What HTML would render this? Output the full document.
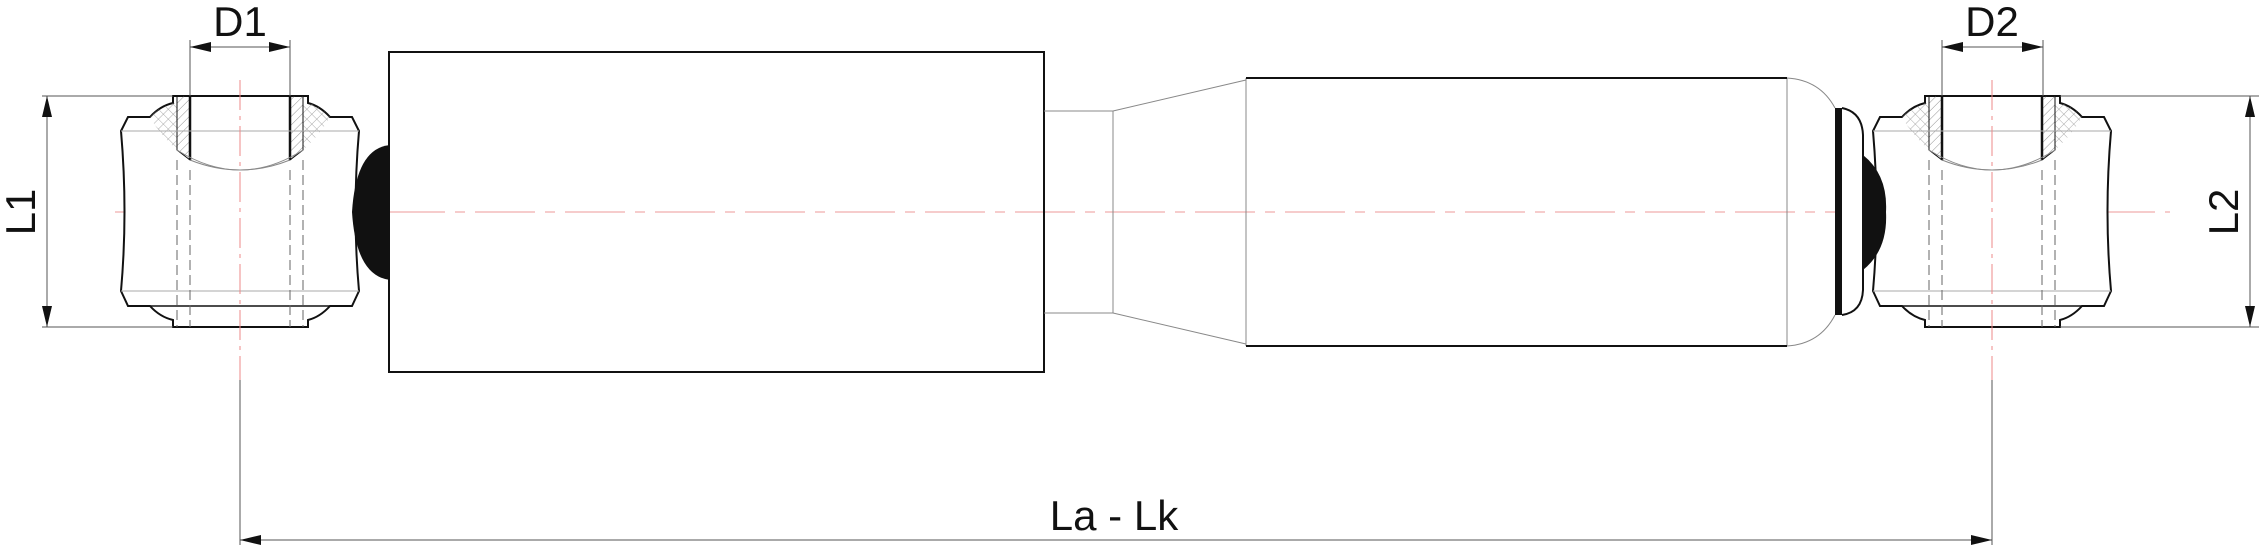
<!DOCTYPE html>
<html><head><meta charset="utf-8"><style>
html,body{margin:0;padding:0;background:#fff;}
svg{display:block;}
text{font-family:"Liberation Sans",sans-serif;fill:#111;}
</style></head><body>
<svg width="2259" height="550" viewBox="0 0 2259 550" xmlns="http://www.w3.org/2000/svg">
<defs>
<pattern id="h1" width="6" height="6" patternUnits="userSpaceOnUse" patternTransform="rotate(45)"><line x1="0" y1="0" x2="0" y2="6" stroke="#777" stroke-width="0.8"/></pattern>
<pattern id="h2" width="7" height="7" patternUnits="userSpaceOnUse" patternTransform="rotate(45)"><line x1="0" y1="0" x2="0" y2="7" stroke="#888" stroke-width="0.7"/><line x1="0" y1="0" x2="7" y2="0" stroke="#888" stroke-width="0.7"/></pattern>
<g id="eye">
  <path d="M128,117 L150,117 Q160,106 173,103 L173,96 L308,96 L308,103 Q320,106 330,117 L352,117 L359,131 Q352,212 359,291 L352,306 L330,306 Q320,317 308,320 L308,327 L173,327 L173,320 Q160,317 150,306 L128,306 L121,291 Q128,212 121,131 Z" fill="#fff" stroke="#111" stroke-width="2"/>
  <path d="M150,117 Q160,106 173,103 L177,103 L177,150 Q160,135 150,117 Z" fill="url(#h2)"/>
  <path d="M330,117 Q320,106 308,103 L303,103 L303,150 Q320,135 330,117 Z" fill="url(#h2)"/>
  <path d="M177,96 L190,96 L190,160 L177,150 Z" fill="url(#h1)" stroke="#111" stroke-width="1"/>
  <path d="M290,96 L303,96 L303,150 L290,160 Z" fill="url(#h1)" stroke="#111" stroke-width="1"/>
  <line x1="190" y1="96" x2="190" y2="160" stroke="#111" stroke-width="2.5"/>
  <line x1="290" y1="96" x2="290" y2="160" stroke="#111" stroke-width="2.5"/>
  <path d="M177,150 Q240,190 303,150" fill="none" stroke="#888" stroke-width="1"/>
  <path d="M190,160 Q240,180 290,160" fill="none" stroke="#888" stroke-width="1"/>
  <line x1="121" y1="131" x2="359" y2="131" stroke="#aaa" stroke-width="1"/>
  <line x1="121" y1="291" x2="359" y2="291" stroke="#aaa" stroke-width="1"/>
  <line x1="150" y1="306" x2="330" y2="306" stroke="#111" stroke-width="1.5"/>
  <g stroke="#666" stroke-width="1" stroke-dasharray="10,5">
    <line x1="177" y1="160" x2="177" y2="327"/><line x1="190" y1="170" x2="190" y2="327"/>
    <line x1="290" y1="170" x2="290" y2="327"/><line x1="303" y1="160" x2="303" y2="327"/>
  </g>
  <line x1="240" y1="80" x2="240" y2="380" stroke="#e88" stroke-width="1" stroke-dasharray="30,6,4,6"/>
</g>
</defs>
<line x1="115" y1="212" x2="2170" y2="212" stroke="#e99" stroke-width="1" stroke-dasharray="60,10,10,10"/>
<use href="#eye"/>
<use href="#eye" transform="translate(1752,0)"/>
<path d="M390,145 Q356,148 352,212 Q356,276 390,280 Z" fill="#111"/>
<rect x="389" y="52" width="655" height="320" fill="none" stroke="#111" stroke-width="2"/>
<g fill="none" stroke="#888" stroke-width="1">
<line x1="1044" y1="111" x2="1113" y2="111"/><line x1="1044" y1="313" x2="1113" y2="313"/>
<line x1="1113" y1="111" x2="1113" y2="313"/>
<line x1="1113" y1="111" x2="1246" y2="80"/><line x1="1113" y1="313" x2="1246" y2="344"/>
<line x1="1246" y1="78" x2="1246" y2="346"/>
<line x1="1787" y1="78" x2="1787" y2="346"/>
<path d="M1787,78 Q1820,80 1835,108"/><path d="M1787,346 Q1820,344 1835,315"/>
</g>
<line x1="1246" y1="78" x2="1787" y2="78" stroke="#111" stroke-width="2"/>
<line x1="1246" y1="346" x2="1787" y2="346" stroke="#111" stroke-width="2"/>
<path d="M1842,108 Q1862,112 1863,135 L1863,290 Q1862,312 1842,315" fill="#fff" stroke="#111" stroke-width="2"/>
<polygon points="1835,108 1842,108 1842,315 1835,315" fill="#111"/>
<path d="M1863,155 Q1888,175 1886,212 Q1888,250 1863,270 Z" fill="#111"/>
<g stroke="#555" stroke-width="1" fill="none">
<line x1="190" y1="40" x2="190" y2="96"/><line x1="290" y1="40" x2="290" y2="96"/>
<line x1="1942" y1="40" x2="1942" y2="96"/><line x1="2043" y1="40" x2="2043" y2="96"/>
<line x1="42" y1="96" x2="173" y2="96"/><line x1="42" y1="327" x2="173" y2="327"/>
<line x1="2060" y1="96" x2="2259" y2="96"/><line x1="2060" y1="327" x2="2259" y2="327"/>
<line x1="47" y1="96" x2="47" y2="327"/><line x1="2250" y1="96" x2="2250" y2="327"/>
<line x1="190" y1="47" x2="290" y2="47"/><line x1="1942" y1="47" x2="2043" y2="47"/>
<line x1="240" y1="380" x2="240" y2="545"/><line x1="1992" y1="380" x2="1992" y2="545"/>
<line x1="240" y1="540" x2="1992" y2="540"/>
</g>
<g fill="#111">
<polygon points="190,47 211,42 211,52"/><polygon points="290,47 269,42 269,52"/>
<polygon points="1942,47 1963,42 1963,52"/><polygon points="2043,47 2022,42 2022,52"/>
<polygon points="47,96 42,117 52,117"/><polygon points="47,327 42,306 52,306"/>
<polygon points="2250,96 2245,117 2255,117"/><polygon points="2250,327 2245,306 2255,306"/>
<polygon points="240,540 261,535 261,545"/><polygon points="1992,540 1971,535 1971,545"/>
</g>
<text x="240" y="36" font-size="42" text-anchor="middle">D1</text>
<text x="1992" y="36" font-size="42" text-anchor="middle">D2</text>
<text x="1114" y="530" font-size="42" text-anchor="middle">La - Lk</text>
<text transform="translate(35,212) rotate(-90)" font-size="42" text-anchor="middle">L1</text>
<text transform="translate(2238,212) rotate(-90)" font-size="42" text-anchor="middle">L2</text>
</svg>
</body></html>
